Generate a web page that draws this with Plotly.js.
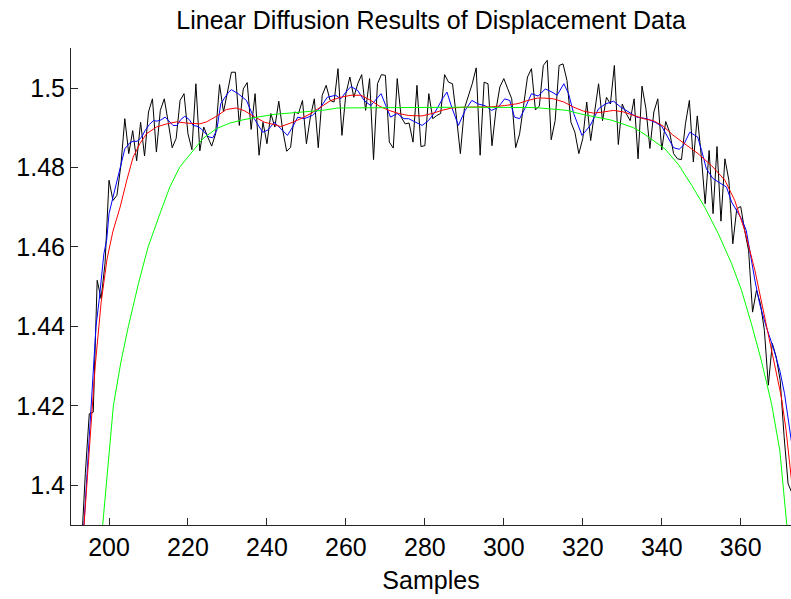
<!DOCTYPE html>
<html><head><meta charset="utf-8">
<script src="https://cdn.plot.ly/plotly-3.0.1.min.js"></script>
<style>html,body{margin:0;padding:0;background:#fff;} #chart{width:791px;height:599px;}</style>
</head><body><div id="chart"></div>
<script>
// ---- data ----
const sampleStart = 193;
const measured = [
1.384,1.403,1.418,1.4184,1.4516,1.447,1.456,1.4768,1.4717,1.473,
1.4805,1.4923,1.4835,1.4893,1.4817,1.4914,1.4829,1.494,1.4973,1.4839,
1.4944,1.4973,1.4914,1.485,1.4873,1.4969,1.4986,1.4885,1.4845,1.5011,
1.4842,1.4902,1.4877,1.4854,1.4885,1.5009,1.4940,1.4990,1.5040,1.5040,
1.4906,1.4998,1.5014,1.4896,1.4986,1.4831,1.4914,1.4860,1.4936,1.4902,
1.4967,1.4894,1.4841,1.4851,1.4940,1.4936,1.4969,1.4860,1.4927,1.4973,
1.4850,1.4982,1.5007,1.4969,1.4965,1.5049,1.4881,1.4986,1.5028,1.4977,
1.5011,1.5034,1.4944,1.5024,1.4820,1.5011,1.5034,1.5032,1.4864,1.4849,
1.5024,1.4927,1.4910,1.4912,1.4864,1.5007,1.4853,1.4855,1.4986,1.4923,
1.4931,1.4936,1.5034,1.5015,1.5011,1.4927,1.4835,1.4948,1.4977,1.5011,
1.5051,1.4831,1.5015,1.5011,1.4855,1.4944,1.5003,1.5024,1.4998,1.4973,
1.4850,1.4885,1.4956,1.5028,1.5049,1.4945,1.4955,1.5057,1.5070,1.4870,
1.4918,1.5057,1.5061,1.5019,1.4914,1.4889,1.4835,1.4873,1.4965,1.4868,
1.4940,1.5011,1.4918,1.4977,1.4960,1.5057,1.4858,1.4960,1.4936,1.4918,
1.4973,1.4822,1.5005,1.4948,1.4848,1.4940,1.4973,1.4844,1.4916,1.4889,
1.4835,1.4822,1.4820,1.4910,1.4969,1.4814,1.4930,1.4831,1.4709,1.4843,
1.4684,1.4853,1.4665,1.4822,1.4768,1.4608,1.4696,1.4702,1.4642,1.4591,
1.4436,1.4491,1.4457,1.4390,1.4252,1.4357,1.4323,1.4264,1.4122,1.4004,
1.3980
];
const blueX = [193.4,195.4,196.7,197.5,198.7,199.4,200,201,202,203,204,205.2,206.1,207.1,208.2,209.2,210.2,211.2,212.2,213.2,214.2,215.2,216.2,217.2,218.2,219.2,220.3,221.3,222.3,223.3,224.3,225.3,226.3,227.3,228.3,229.3,230.3,231,232.7,234.8,236.8,238.9,240.2,241.9,243.5,245.2,246.5,247.8,249.4,251.5,253.6,255.3,257.4,258.7,260,261.3,263,264.6,266.3,268,268.9,270.1,271.3,273,274.7,275.9,277.6,279.3,280.9,282.6,284.7,285.6,286.8,288.5,290.2,291.9,293.5,295.2,296.9,298.6,300.2,301.5,302.7,304,305.3,307,308.7,310.5,312.2,313.5,315.2,316.4,317.7,319.8,321.9,324,325.7,327.8,329.5,331.6,333.7,336.2,338.3,340,341.7,343,344.4,345.5,347.1,349.1,350.1,351.3,353,355.1,356.4,357.7,358.9,360.2,361.4,362.7,363.6,364.8,366.5,368.2,369.9,371.1,372.2,373];
const blueY = [1.386,1.418,1.440,1.4466,1.4583,1.4617,1.4684,1.4725,1.4765,1.4810,1.4847,1.4862,1.4866,1.4866,1.4876,1.4894,1.4908,1.4918,1.4917,1.4920,1.4927,1.4917,1.4906,1.4906,1.4921,1.4929,1.4921,1.4906,1.4904,1.4898,1.4887,1.4877,1.4875,1.4894,1.4961,1.4977,1.4990,1.4996,1.4986,1.4969,1.4923,1.4889,1.4894,1.4914,1.4898,1.4881,1.4902,1.4927,1.4923,1.4931,1.4952,1.4977,1.4982,1.4973,1.4990,1.5004,1.4994,1.4969,1.4956,1.4977,1.4986,1.4956,1.4927,1.4936,1.4923,1.4923,1.4914,1.4906,1.4918,1.4940,1.4977,1.4990,1.4952,1.4906,1.4944,1.4969,1.4960,1.4956,1.4944,1.4952,1.4973,1.4969,1.4927,1.4923,1.4948,1.4986,1.4980,1.4998,1.4990,1.4982,1.5011,1.4986,1.4936,1.4881,1.4906,1.4948,1.4960,1.4967,1.4953,1.4940,1.4927,1.4923,1.4914,1.4904,1.4873,1.4850,1.4846,1.4856,1.4889,1.4877,1.4843,1.4797,1.4772,1.4759,1.4751,1.4713,1.4692,1.4671,1.4642,1.4566,1.4516,1.4457,1.4398,1.4348,1.4289,1.4231,1.4155,1.4100];
const redX = [193.6,195,196.5,198,199.5,201,202.8,204.5,206.1,207.8,209.5,212,214.6,217.1,219.6,223,224.7,227.2,229.7,232.2,234.3,236.6,239.4,241.9,243.5,246,248.6,251.1,253.6,256.2,258.7,261.3,263.8,266.3,268.6,270.9,273.4,275.9,279.3,281.8,284.3,286.8,290.2,293.5,296.9,300.2,303.6,306.1,308.6,310.1,312.6,315.2,317.7,320.2,322.7,325.3,327.8,330.3,332.9,335.4,337.9,340.4,342.8,345.7,349.2,352.6,356,358.5,361,363.6,366.1,368.6,370.3,371.5,372.2,373];
const redY = [1.389,1.410,1.430,1.446,1.457,1.4640,1.4700,1.4768,1.4826,1.4860,1.4885,1.4902,1.4910,1.4915,1.4912,1.4910,1.4915,1.4929,1.4946,1.4950,1.4943,1.4929,1.4914,1.4908,1.4903,1.4912,1.4923,1.4936,1.4952,1.4969,1.4977,1.4982,1.4982,1.4969,1.4954,1.4944,1.4936,1.4931,1.4930,1.4936,1.4944,1.4950,1.4952,1.4952,1.4953,1.4956,1.4961,1.4969,1.4975,1.4975,1.4973,1.4965,1.4952,1.4942,1.4937,1.4940,1.4944,1.4940,1.4931,1.4923,1.4918,1.4904,1.4882,1.4860,1.4835,1.4805,1.4768,1.4717,1.4642,1.4541,1.4424,1.4306,1.4222,1.4138,1.4071,1.4000];
const greenX = [198.4,199.5,201.1,203,204.9,207.5,209.9,212.9,215.4,217.9,221.3,223.8,227.2,230.6,233.9,236.4,241.9,249.4,254,258,270,290,308,312.6,316,319.4,323.6,327,329.5,332.9,335.5,337.9,340.8,344.2,347.6,350.9,354.3,357.7,360.2,362.7,365.2,367.8,369.9,371.7];
const greenY = [1.390,1.402,1.420,1.431,1.440,1.451,1.4600,1.4684,1.4751,1.4801,1.4843,1.4873,1.4898,1.4912,1.4920,1.4925,1.4934,1.4940,1.4944,1.4950,1.4951,1.4952,1.4951,1.4948,1.4944,1.4935,1.4927,1.4920,1.4912,1.4900,1.4885,1.4868,1.4847,1.4808,1.4755,1.4700,1.4634,1.4558,1.4491,1.4407,1.4315,1.4206,1.4088,1.3898];
const xTickVals = [200,220,240,260,280,300,320,340,360];
const xTickText = ['200','220','240','260','280','300','320','340','360'];
const yTickVals = [1.4,1.42,1.44,1.46,1.48,1.5];
const yTickText = ['1.4','1.42','1.44','1.46','1.48','1.5'];
const chartTitle = 'Linear Diffusion Results of Displacement Data';
const xTitle = 'Samples';

const samples = measured.map((_, i) => sampleStart + i);
const FONT = '"Liberation Sans", Arial, Helvetica, sans-serif';
const AX = '#262626';

const line = (x, y, color) => ({x, y, type:'scatter', mode:'lines', line:{color, width:1}, hoverinfo:'skip', showlegend:false});
const data = [
  line(samples, measured, '#000000'),
  line(blueX, blueY, '#0000ff'),
  line(redX, redY, '#ff0000'),
  line(greenX, greenY, '#00ff00')
];
const axisCommon = {showgrid:false, zeroline:false, showline:true, linecolor:AX, linewidth:1,
  ticks:'inside', ticklen:7, tickwidth:1, tickcolor:AX, tickfont:{family:FONT, size:25, color:'#000'}};
const layout = {
  width:791, height:599, paper_bgcolor:'#fff', plot_bgcolor:'#fff',
  margin:{l:71, r:0, t:48, b:74},
  title:{text:chartTitle, font:{family:FONT, size:25, color:'#000'}, x:0.545, xanchor:'center', xref:'container', y:0.966, yanchor:'middle', yref:'container'},
  xaxis:Object.assign({}, axisCommon, {range:[190.37,372.74], tickmode:'array', tickvals:xTickVals, ticktext:xTickText,
    title:{text:xTitle, font:{family:FONT, size:25, color:'#000'}, standoff:11}}),
  yaxis:Object.assign({}, axisCommon, {range:[1.3900,1.5101], tickmode:'array', tickvals:yTickVals, ticktext:yTickText}),
  showlegend:false
};
Plotly.newPlot('chart', data, layout, {staticPlot:true, displayModeBar:false});
</script></body></html>
